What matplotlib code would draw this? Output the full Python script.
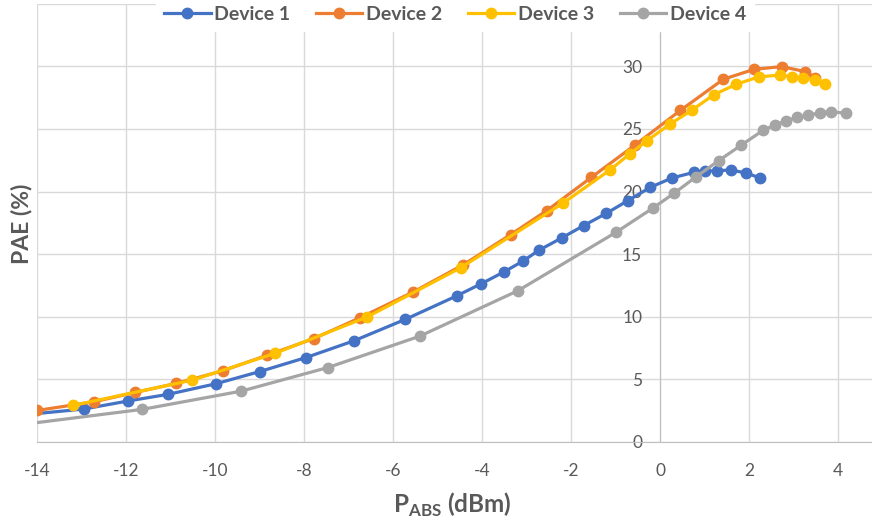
import matplotlib
matplotlib.use('Agg')
import matplotlib.pyplot as plt

# PAE vs absorbed power for four devices
dev1_x = [-14.3, -12.96, -11.97, -11.07, -9.99, -9.00, -7.96, -6.89, -5.73, -4.58, -4.04, -3.52, -3.09,
          -2.73, -2.21, -1.72, -1.21, -0.73, -0.22, 0.26, 0.75, 1.01, 1.27, 1.59, 1.93, 2.25]
dev1_y = [2.15, 2.61, 3.25, 3.78, 4.63, 5.61, 6.73, 8.06, 9.78, 11.65, 12.6, 13.56, 14.43,
          15.3, 16.3, 17.28, 18.26, 19.27, 20.34, 21.08, 21.53, 21.61, 21.67, 21.72, 21.48, 21.08]

dev2_x = [-14.0, -12.73, -11.80, -10.88, -9.84, -8.84, -7.79, -6.76, -5.56, -4.43, -3.36, -2.55,
          -1.55, -0.56, 0.45, 1.42, 2.11, 2.73, 3.26, 3.48]
dev2_y = [2.50, 3.19, 3.94, 4.66, 5.66, 6.91, 8.24, 9.89, 11.96, 14.14, 16.56, 18.48,
          21.13, 23.74, 26.48, 28.98, 29.77, 29.99, 29.59, 29.1]

dev3_x = [-13.20, -10.52, -8.67, -6.59, -4.49, -2.19, -1.12, -0.69, -0.30, 0.22, 0.71, 1.20,
          1.71, 2.21, 2.70, 2.97, 3.22, 3.48, 3.71]
dev3_y = [2.90, 4.92, 7.05, 9.97, 13.9, 19.06, 21.75, 23.0, 24.06, 25.39, 26.5, 27.73,
          28.58, 29.16, 29.32, 29.16, 29.1, 28.92, 28.58]

dev4_x = [-14.4, -11.65, -9.42, -7.47, -5.41, -3.20, -0.99, -0.16, 0.31, 0.81, 1.31, 1.82, 2.32,
          2.58, 2.83, 3.07, 3.33, 3.58, 3.84, 4.17]
dev4_y = [1.35, 2.58, 4.04, 5.93, 8.43, 12.07, 16.75, 18.69, 19.86, 21.19, 22.46, 23.71, 24.91,
          25.33, 25.65, 25.92, 26.11, 26.29, 26.37, 26.27]

names = ['Device 1', 'Device 2', 'Device 3', 'Device 4']
colors = ['#4472C4', '#ED7D31', '#FFC000', '#A5A5A5']
xticks = [-14, -12, -10, -8, -6, -4, -2, 0, 2, 4]
yticks = [0, 5, 10, 15, 20, 25, 30, 35]

plt.rcParams['font.family'] = ['Lato', 'DejaVu Sans']
plt.rcParams['axes.unicode_minus'] = False
plt.rcParams['mathtext.fontset'] = 'custom'
plt.rcParams['mathtext.rm'] = 'Lato'
plt.rcParams['mathtext.bf'] = 'Lato:bold'
txt = '#595959'

fig = plt.figure(figsize=(8.72, 5.23), dpi=100)
ax = fig.add_axes([0.043, 0.1555, 0.957, 0.837])

series = [(dev1_x, dev1_y), (dev2_x, dev2_y), (dev3_x, dev3_y), (dev4_x, dev4_y)]
for (xs, ys), name, c in zip(series, names, colors):
    ax.plot(xs, ys, color=c, lw=2.3, marker='o', ms=7.5, mfc=c, mec=c, label=name, zorder=3)

ax.set_xlim(-14, 4.76)
ax.set_ylim(0, 35)
ax.set_xticks(xticks)
ax.set_yticks(yticks)
ax.set_yticklabels([str(v) for v in yticks[:-1]] + [''])
ax.grid(True, color='#D9D9D9', lw=1, zorder=0)
ax.set_axisbelow(True)
for s in ['top', 'right']:
    ax.spines[s].set_visible(False)
ax.spines['left'].set_position(('data', 0))
ax.spines['left'].set_color('#BFBFBF')
ax.spines['bottom'].set_color('#BFBFBF')
ax.tick_params(axis='both', length=0, labelsize=12.5, labelcolor=txt)
ax.tick_params(axis='x', pad=15)
ax.tick_params(axis='y', pad=13)

fig.text(22 / 872, 1 - 224 / 523, 'PAE (%)', rotation=90, ha='center', va='center',
         fontsize=16.5, fontweight='bold', color=txt)
fig.text(452 / 872, 1 - 505 / 523, r'P$_{\mathbf{ABS}}$ (dBm)', ha='center', va='center',
         fontsize=17.5, fontweight='bold', color=txt)

leg = fig.legend(loc='upper center', bbox_to_anchor=(0.522, 1.022), ncol=4, frameon=True,
                 fancybox=False, edgecolor='white', facecolor='white', framealpha=1,
                 handlelength=2.4, handletextpad=0.2, columnspacing=1.3,
                 prop={'weight': 'bold', 'size': 14})
for t in leg.get_texts():
    t.set_color(txt)

fig.savefig('out.png', dpi=100)
